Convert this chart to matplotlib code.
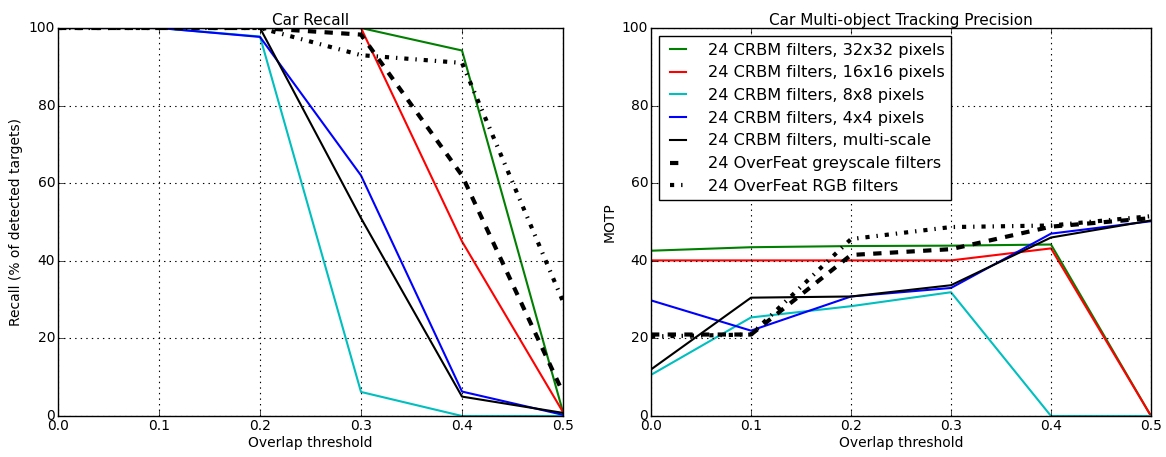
import numpy as np
import matplotlib
matplotlib.use('Agg')
import matplotlib.pyplot as plt

plt.style.use('classic')

thresholds = [0.0, 0.1, 0.2, 0.3, 0.4, 0.5]

labels = ['24 CRBM filters, 32x32 pixels',
          '24 CRBM filters, 16x16 pixels',
          '24 CRBM filters, 8x8 pixels',
          '24 CRBM filters, 4x4 pixels',
          '24 CRBM filters, multi-scale',
          '24 OverFeat greyscale filters',
          '24 OverFeat RGB filters']

# recall (% of detected targets)
recall_32 = [100, 100, 100, 100, 94.2, 1.0]
recall_16 = [100, 100, 100, 100, 45, 1.0]
recall_8 = [100, 100, 97.8, 6.2, 0, 0]
recall_4 = [100, 100, 97.7, 62, 6.3, 0.3]
recall_ms = [100, 100, 100, 51, 5, 0.8]
recall_grey = [100, 100, 100, 98.3, 62, 6]
recall_rgb = [100, 100, 100, 93, 91, 29.5]

# MOTP
motp_32 = [42.6, 43.5, 43.8, 43.9, 44.2, 0]
motp_16 = [40.1, 40.1, 40.1, 40.1, 43.2, 0]
motp_8 = [10.6, 25.4, 28.3, 31.9, 0, 0]
motp_4 = [29.8, 22, 30.8, 33, 47, 50.2]
motp_ms = [12, 30.5, 30.8, 33.7, 46, 50.4]
motp_grey = [21, 21, 41.5, 43, 48.8, 51]
motp_rgb = [20.5, 21, 45.6, 48.7, 49.1, 51.5]

styles = [dict(color='g', ls='-', lw=1.5),
          dict(color='r', ls='-', lw=1.5),
          dict(color='c', ls='-', lw=1.5),
          dict(color='b', ls='-', lw=1.5),
          dict(color='k', ls='-', lw=1.5),
          dict(color='k', ls='--', lw=3),
          dict(color='k', ls='-.', lw=3)]

recall = [recall_32, recall_16, recall_8, recall_4, recall_ms, recall_grey, recall_rgb]
motp = [motp_32, motp_16, motp_8, motp_4, motp_ms, motp_grey, motp_rgb]

fig = plt.figure(figsize=(11.66, 4.57), dpi=100, facecolor='white')
ax1 = fig.add_axes([58/1166, 41/457, 505/1166, 388/457])
ax2 = fig.add_axes([651/1166, 41/457, 500/1166, 388/457])

for ax, data, title, ylab in [(ax1, recall, 'Car Recall', 'Recall (% of detected targets)'),
                              (ax2, motp, 'Car Multi-object Tracking Precision', 'MOTP')]:
    for d, st, lab in zip(data, styles, labels):
        ax.plot(thresholds, d, label=lab, **st)
    ax.set_xlim(0, 0.5)
    ax.set_ylim(0, 100)
    ax.set_xticks(thresholds)
    ax.set_yticks([0, 20, 40, 60, 80, 100])
    ax.grid(True, color='k', ls=':', lw=0.8)
    ax.set_title(title, fontsize=11, pad=2)
    ax.set_xlabel('Overlap threshold', fontsize=10, labelpad=2)
    ax.set_ylabel(ylab, fontsize=10, labelpad=4)
    ax.tick_params(labelsize=10, pad=2)

ax2.legend(loc='upper left', fontsize=11.6, handlelength=1.55, handletextpad=1.1,
           labelspacing=0.48, borderaxespad=0.5, fancybox=False)

plt.savefig('out.png', dpi=100, facecolor='white')
